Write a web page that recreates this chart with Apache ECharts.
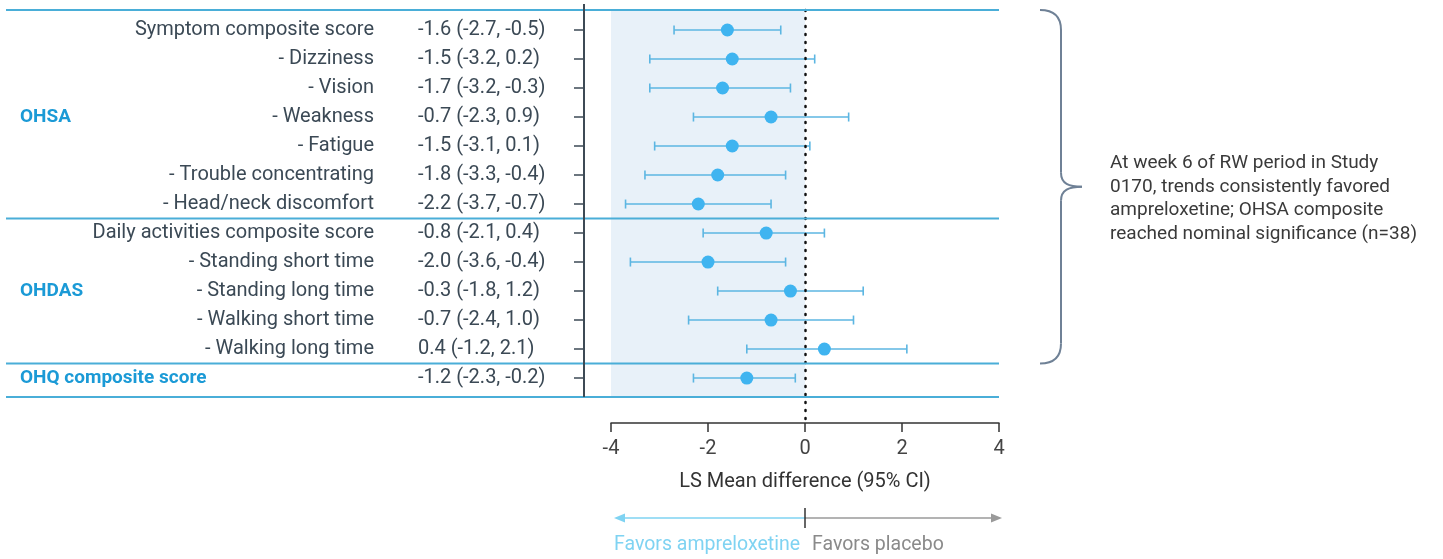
<!DOCTYPE html>
<html>
<head>
<meta charset="utf-8">
<script src="https://cdn.jsdelivr.net/npm/echarts@6/dist/echarts.min.js"></script>
<style>
html, body { margin: 0; padding: 0; background: #fff; }
#main { width: 1443px; height: 559px; }
</style>
</head>
<body>
<div id="main"></div>
<script>
// rows, top to bottom
var measures = ['Symptom composite score', '- Dizziness', '- Vision', '- Weakness', '- Fatigue',
    '- Trouble concentrating', '- Head/neck discomfort', 'Daily activities composite score',
    '- Standing short time', '- Standing long time', '- Walking short time', '- Walking long time', ''];
var groups = ['', '', '', 'OHSA', '', '', '', '', '', 'OHDAS', '', '', 'OHQ composite score'];
var lsMean = [-1.6, -1.5, -1.7, -0.7, -1.5, -1.8, -2.2, -0.8, -2.0, -0.3, -0.7, 0.4, -1.2];
var ciLower = [-2.7, -3.2, -3.2, -2.3, -3.1, -3.3, -3.7, -2.1, -3.6, -1.8, -2.4, -1.2, -2.3];
var ciUpper = [-0.5, 0.2, -0.3, 0.9, 0.1, -0.4, -0.7, 0.4, -0.4, 1.2, 1.0, 2.1, -0.2];
var sectionBreaks = [6.5, 11.5];
var note = 'At week 6 of RW period in Study\n0170, trends consistently favored\nampreloxetine; OHSA composite\nreached nominal significance (n=38)';

var rows = measures.map(function (_, i) { return i; });
var yTop = -0.69, tableEnd = 12.655, yMax = 13.55;
var FONT = 'Roboto';
var TXT = '#3b4955';
var BLUE = '#4aaed8';

function fmt(v) { return v.toFixed(1); }

// three left axes sharing one scale: values column, names column, group column
function rowAxis(margin, align, formatter, labelStyle, ticks) {
    return {
        type: 'value',
        position: 'left',
        inverse: true,
        min: yTop,
        max: yMax,
        offset: 27,
        splitLine: { show: false },
        axisLine: { show: false, onZero: false },
        axisTick: {
            show: !!ticks,
            customValues: rows,
            length: 10,
            lineStyle: { color: '#3d4a55', width: 1.5 }
        },
        axisLabel: Object.assign({
            customValues: rows,
            margin: margin,
            align: align,
            padding: [4, 0, 0, 0],
            fontFamily: FONT,
            fontSize: 20,
            color: TXT,
            formatter: formatter
        }, labelStyle)
    };
}

var myChart = echarts.init(document.getElementById('main'));

option = {
    backgroundColor: '#fff',
    animation: false,
    grid: { left: 611, right: 444, top: 10, bottom: 136, outerBoundsMode: 'none' },
    xAxis: {
        type: 'value',
        min: -4,
        max: 4,
        interval: 2,
        splitLine: { show: false },
        axisLine: { onZero: false, lineStyle: { color: '#333', width: 1.5 } },
        axisTick: { length: 9, lineStyle: { color: '#333', width: 1.5 } },
        axisLabel: { fontSize: 20, fontFamily: FONT, color: '#444', margin: 16 },
        name: 'LS Mean difference (95% CI)',
        nameLocation: 'middle',
        nameGap: 49,
        nameTextStyle: { fontSize: 20, fontFamily: FONT, color: '#333', verticalAlign: 'top' }
    },
    yAxis: [
        rowAxis(166, 'left', function (v) {
            var i = Math.round(v);
            return fmt(lsMean[i]) + ' (' + fmt(ciLower[i]) + ', ' + fmt(ciUpper[i]) + ')';
        }, {}, true),
        rowAxis(210, 'right', function (v) {
            return measures[Math.round(v)];
        }, {}, false),
        rowAxis(564, 'left', function (v) {
            return groups[Math.round(v)];
        }, { fontSize: 19, fontWeight: 'bold', color: '#1b9ad6' }, false)
    ],
    series: [{
        type: 'custom',
        name: 'CI',
        data: rows.map(function (i) { return [ciLower[i], ciUpper[i], i]; }),
        encode: { x: [0, 1], y: 2 },
        renderItem: function (params, api) {
            var a = api.coord([api.value(0), api.value(2)]);
            var b = api.coord([api.value(1), api.value(2)]);
            var h = 4.5;
            var st = { stroke: '#5cb6e2', lineWidth: 1.6 };
            return {
                type: 'group',
                children: [
                    { type: 'line', shape: { x1: a[0], y1: a[1], x2: b[0], y2: b[1] }, style: st },
                    { type: 'line', shape: { x1: a[0], y1: a[1] - h, x2: a[0], y2: a[1] + h }, style: st },
                    { type: 'line', shape: { x1: b[0], y1: b[1] - h, x2: b[0], y2: b[1] + h }, style: st }
                ]
            };
        },
        markArea: {
            silent: true,
            itemStyle: { color: '#e8f1f9' },
            data: [[{ xAxis: -4, yAxis: yTop }, { xAxis: 0, yAxis: tableEnd }]]
        },
        markLine: {
            silent: true,
            symbol: 'none',
            label: { show: false },
            lineStyle: { color: '#111', width: 2.5, type: [1, 7], cap: 'round' },
            data: [{ xAxis: 0 }]
        },
        z: 3
    }, {
        type: 'scatter',
        name: 'LS Mean',
        symbolSize: 13,
        itemStyle: { color: '#3fb4f0', opacity: 1 },
        data: rows.map(function (i) { return [lsMean[i], i]; }),
        z: 4
    }]
};

myChart.setOption(option);

function px(x, y) { return myChart.convertToPixel({ gridIndex: 0 }, [x, y]); }

var topY = px(0, yTop)[1];
var endY = px(0, tableEnd)[1];
var axisY = px(0, yMax)[1];
var leftX = px(-4, 0)[0];
var zeroX = px(0, 0)[0];
var rightX = px(4, 0)[0];
var braceBot = px(0, sectionBreaks[1])[1];

var graphics = [];
[yTop].concat(sectionBreaks, [tableEnd]).forEach(function (v) {
    var y = px(0, v)[1];
    graphics.push({
        type: 'line', silent: true, z: 5,
        shape: { x1: 6, y1: y, x2: rightX, y2: y },
        style: { stroke: BLUE, lineWidth: 2 }
    });
});
// table left border
graphics.push({
    type: 'line', silent: true, z: 6,
    shape: { x1: leftX - 27, y1: topY - 6, x2: leftX - 27, y2: endY },
    style: { stroke: '#3d4a55', lineWidth: 2 }
});

// brace
var bx0 = rightX + 41, bx1 = rightX + 62, bx2 = rightX + 83;
var ym = (topY + braceBot) / 2;
var bst = { stroke: '#6f8196', lineWidth: 2, fill: null };
graphics.push(
    { type: 'bezierCurve', silent: true, shape: { x1: bx0, y1: topY, x2: bx1, y2: topY + 20, cpx1: bx1, cpy1: topY }, style: bst },
    { type: 'line', silent: true, shape: { x1: bx1, y1: topY + 20, x2: bx1, y2: ym - 14 }, style: bst },
    { type: 'bezierCurve', silent: true, shape: { x1: bx1, y1: ym - 14, x2: bx2, y2: ym, cpx1: bx1, cpy1: ym - 3, cpx2: bx1 + 8, cpy2: ym }, style: bst },
    { type: 'bezierCurve', silent: true, shape: { x1: bx2, y1: ym, x2: bx1, y2: ym + 14, cpx1: bx1 + 8, cpy1: ym, cpx2: bx1, cpy2: ym + 3 }, style: bst },
    { type: 'line', silent: true, shape: { x1: bx1, y1: ym + 14, x2: bx1, y2: braceBot - 20 }, style: bst },
    { type: 'bezierCurve', silent: true, shape: { x1: bx1, y1: braceBot - 20, x2: bx0, y2: braceBot, cpx1: bx1, cpy1: braceBot }, style: bst }
);
graphics.push({
    type: 'text', silent: true,
    x: bx2 + 28, y: ym + 12,
    style: {
        text: note, fontSize: 19, fontFamily: FONT, fill: '#3a3a3a',
        lineHeight: 23.5, align: 'left', verticalAlign: 'middle'
    }
});

// favors arrows
var ay = axisY + 95;
graphics.push(
    { type: 'line', silent: true, shape: { x1: zeroX, y1: ay, x2: leftX + 6, y2: ay }, style: { stroke: '#7fd3f2', lineWidth: 1.5 } },
    { type: 'polygon', silent: true, shape: { points: [[leftX + 3, ay], [leftX + 14, ay - 4.5], [leftX + 14, ay + 4.5]] }, style: { fill: '#7fd3f2' } },
    { type: 'line', silent: true, shape: { x1: zeroX, y1: ay, x2: rightX, y2: ay }, style: { stroke: '#9a9a9a', lineWidth: 1.5 } },
    { type: 'polygon', silent: true, shape: { points: [[rightX + 3, ay], [rightX - 8, ay - 4.5], [rightX - 8, ay + 4.5]] }, style: { fill: '#9a9a9a' } },
    { type: 'line', silent: true, shape: { x1: zeroX, y1: ay - 10, x2: zeroX, y2: ay + 10 }, style: { stroke: '#333', lineWidth: 1.5 } },
    { type: 'text', silent: true, x: zeroX - 5, y: ay + 27,
      style: { text: 'Favors ampreloxetine', fontSize: 19.5, fontFamily: FONT, fill: '#7fd3f2', align: 'right', verticalAlign: 'middle' } },
    { type: 'text', silent: true, x: zeroX + 7, y: ay + 27,
      style: { text: 'Favors placebo', fontSize: 19.5, fontFamily: FONT, fill: '#8a8a8a', align: 'left', verticalAlign: 'middle' } }
);

myChart.setOption({ graphic: graphics });
</script>
</body>
</html>
